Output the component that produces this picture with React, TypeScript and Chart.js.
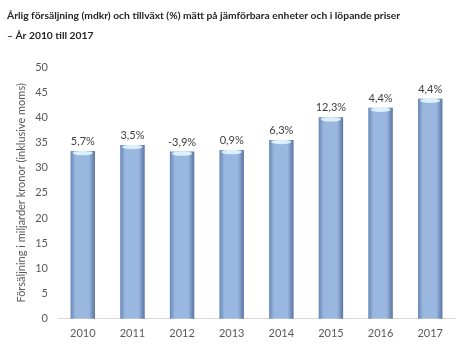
import React, { useEffect, useRef } from "react";
import { Chart, registerables } from "chart.js";

Chart.register(...registerables);

const years: string[] = ["2010", "2011", "2012", "2013", "2014", "2015", "2016", "2017"];
const salesBn: number[] = [33.3, 34.5, 33.2, 33.5, 35.5, 40.0, 41.9, 43.7];
const growthLabels: string[] = ["5,7%", "3,5%", "-3,9%", "0,9%", "6,3%", "12,3%", "4,4%", "4,4%"];
const titleLines: string[] = [
  "Årlig försäljning (mdkr) och tillväxt (%) mätt på jämförbara enheter och i löpande priser",
  "– År 2010 till 2017",
];
const yAxisTitle = "Försäljning i miljarder kronor (inklusive moms)";

const FONT = "Lato, 'Open Sans', sans-serif";

const barDecor = {
  id: "barDecor",
  afterDatasetsDraw(chart: any) {
    const ctx = chart.ctx;
    const meta = chart.getDatasetMeta(0);
    meta.data.forEach((bar: any) => {
      const { x, y, base, width } = bar.getProps(["x", "y", "base", "width"], true);
      const left = x - width / 2;
      const right = x + width / 2;
      const h = base - y;
      ctx.save();
      let g = ctx.createLinearGradient(left, 0, left + 5, 0);
      g.addColorStop(0, "rgba(90,120,170,0.75)");
      g.addColorStop(1, "rgba(90,120,170,0)");
      ctx.fillStyle = g;
      ctx.fillRect(left, y, 5, h);
      g = ctx.createLinearGradient(right - 6, 0, right, 0);
      g.addColorStop(0, "rgba(80,105,150,0)");
      g.addColorStop(1, "rgba(80,105,150,0.85)");
      ctx.fillStyle = g;
      ctx.fillRect(right - 6, y, 6, h);
      ctx.fillStyle = "#dcf0fb";
      ctx.beginPath();
      ctx.ellipse(x, y + 2, width / 2 - 2, 2.2, 0, 0, Math.PI * 2);
      ctx.fill();
      ctx.restore();
    });
  },
};

const valueLabels = {
  id: "valueLabels",
  afterDatasetsDraw(chart: any) {
    const ctx = chart.ctx;
    const meta = chart.getDatasetMeta(0);
    ctx.save();
    ctx.font = `11px ${FONT}`;
    ctx.fillStyle = "#404040";
    ctx.textAlign = "center";
    ctx.textBaseline = "bottom";
    meta.data.forEach((bar: any, i: number) => {
      const { x, y } = bar.getProps(["x", "y"], true);
      ctx.fillText(growthLabels[i], x, y - 4);
    });
    ctx.restore();
  },
};

export default function App() {
  const ref = useRef<HTMLCanvasElement>(null);
  useEffect(() => {
    document.body.style.margin = "0";
    const chart = new Chart(ref.current!, {
      type: "bar",
      data: {
        labels: years,
        datasets: [
          {
            data: salesBn,
            backgroundColor: "#9ab7e0",
            borderWidth: 0,
            barPercentage: 0.49,
            categoryPercentage: 1,
          },
        ],
      },
      options: {
        animation: false,
        responsive: true,
        maintainAspectRatio: false,
        layout: { padding: { left: 7, right: 5, top: 0, bottom: 1 } },
        plugins: {
          legend: { display: false },
          tooltip: { enabled: false },
          title: {
            display: true,
            text: titleLines,
            align: "start",
            color: "#262626",
            font: { family: FONT, size: 10.3, weight: "bold", lineHeight: 1.94 },
            padding: { top: 6, bottom: 21 },
          },
        },
        scales: {
          x: {
            grid: { display: false, drawTicks: false },
            border: { display: true, color: "#d9d9d9" },
            ticks: { color: "#595959", font: { family: FONT, size: 11 }, padding: 8 },
          },
          y: {
            min: 0,
            max: 50,
            grid: { display: false, drawTicks: false },
            border: { display: false },
            ticks: { stepSize: 5, color: "#595959", font: { family: FONT, size: 11 }, padding: 10 },
            title: {
              display: true,
              text: yAxisTitle,
              color: "#595959",
              font: { family: FONT, size: 11 },
              padding: { top: 8, bottom: 6 },
            },
            afterFit: (scale: any) => {
              scale.width = 51;
            },
          },
        },
      },
      plugins: [barDecor, valueLabels],
    });
    return () => chart.destroy();
  }, []);
  return (
    <div style={{ width: 460, height: 349, position: "relative" }}>
      <canvas ref={ref} />
    </div>
  );
}
